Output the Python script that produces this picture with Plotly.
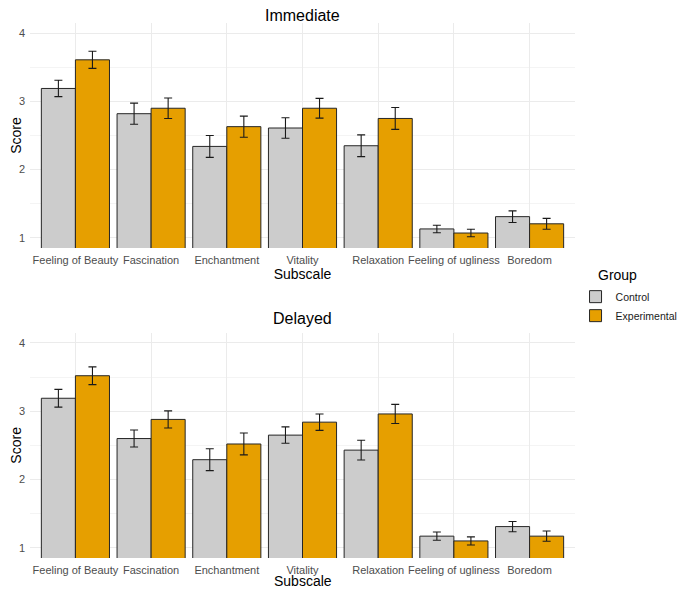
import plotly.graph_objects as go

subscales = ["Feeling of Beauty", "Fascination", "Enchantment", "Vitality",
             "Relaxation", "Feeling of ugliness", "Boredom"]
groups = ["Control", "Experimental"]
colors = {"Control": "#CCCCCC", "Experimental": "#E69F00"}

# Immediate
imm_control = [3.19, 2.82, 2.34, 2.61, 2.35, 1.13, 1.31]
imm_control_se = [0.12, 0.155, 0.16, 0.15, 0.16, 0.055, 0.085]
imm_exp = [3.61, 2.90, 2.63, 2.90, 2.75, 1.07, 1.205]
imm_exp_se = [0.125, 0.15, 0.155, 0.145, 0.16, 0.055, 0.08]

# Delayed
del_control = [3.19, 2.60, 2.29, 2.65, 2.43, 1.17, 1.31]
del_control_se = [0.13, 0.125, 0.16, 0.12, 0.145, 0.06, 0.075]
del_exp = [3.52, 2.88, 2.52, 2.84, 2.96, 1.10, 1.17]
del_exp_se = [0.13, 0.125, 0.16, 0.12, 0.14, 0.06, 0.075]

panels = [
    ("Immediate", {"Control": (imm_control, imm_control_se), "Experimental": (imm_exp, imm_exp_se)}),
    ("Delayed", {"Control": (del_control, del_control_se), "Experimental": (del_exp, del_exp_se)}),
]

FONT = "Liberation Sans, Arial, sans-serif"
fig = go.Figure()

for i, (title, data) in enumerate(panels):
    xa = "x" if i == 0 else "x2"
    ya = "y" if i == 0 else "y2"
    for g in groups:
        vals, se = data[g]
        fig.add_trace(go.Bar(
            x=subscales, y=vals, name=g, legendgroup=g, showlegend=(i == 0),
            marker=dict(color=colors[g], line=dict(color="#262626", width=1)),
            error_y=dict(type="data", array=se, visible=True, color="#1a1a1a",
                         thickness=1.1, width=4),
            xaxis=xa, yaxis=ya, offsetgroup=g,
        ))

domains = [[0.5794, 1.0], [0.0, 0.4211]]
axis_common = dict(
    showline=False, zeroline=False, ticks="", automargin=False,
    tickfont=dict(family=FONT, size=11, color="#4d4d4d"),
)
for i in range(2):
    sx = "" if i == 0 else "2"
    xtitle = dict(text="Subscale", font=dict(family=FONT, size=14, color="black"), standoff=0) if i == 0 else None
    fig.layout["xaxis" + sx] = dict(
        axis_common, domain=[0, 1], anchor="y" + sx, type="category",
        categoryorder="array", categoryarray=subscales, tickangle=0,
        range=[-0.6, 6.6], showgrid=True, gridcolor="#ebebeb", gridwidth=1,
        ticklabelstandoff=4,
    )
    if xtitle:
        fig.layout["xaxis" + sx].title = xtitle
    fig.layout["yaxis" + sx] = dict(
        axis_common, domain=domains[i], anchor="x" + sx,
        range=[0.85, 4.15], tickvals=[1, 2, 3, 4], showgrid=True,
        gridcolor="#ebebeb", gridwidth=1, ticklabelstandoff=4,
        minor=dict(tickvals=[1.5, 2.5, 3.5], showgrid=True, gridcolor="#f4f4f4", gridwidth=0.6),
        title=dict(text="Score", font=dict(family=FONT, size=14, color="black"), standoff=0),
    )

annotations = [
    dict(text="Immediate", x=0.5, y=1.0 + 15 / 534.7, xref="paper", yref="paper",
         xanchor="center", yanchor="top", yshift=3, showarrow=False,
         font=dict(family=FONT, size=16, color="black")),
    dict(text="Delayed", x=0.5, y=domains[1][1], xref="paper", yref="paper",
         xanchor="center", yanchor="bottom", yshift=4, showarrow=False,
         font=dict(family=FONT, size=16, color="black")),
    dict(text="Subscale", x=0.5, y=0, xref="paper", yref="paper",
         xanchor="center", yanchor="top", yshift=-13, showarrow=False,
         font=dict(family=FONT, size=14, color="black")),
    dict(text="Group", x=(588 - 22) / 545, y=(549.7 - 267) / 534.7, xref="paper", yref="paper",
         xanchor="left", yanchor="middle", showarrow=False,
         font=dict(family=FONT, size=14, color="black")),
]

fig.update_layout(
    width=685, height=589,
    margin=dict(l=22, r=118, t=15, b=39, autoexpand=False),
    barmode="group", bargap=0.1, bargroupgap=0,
    plot_bgcolor="white", paper_bgcolor="white",
    annotations=annotations,
    legend=dict(
        font=dict(family=FONT, size=10.5, color="#1a1a1a"),
        x=1.001, xanchor="left", y=0.5156, yanchor="top",
        tracegroupgap=0, itemwidth=30, bgcolor="rgba(0,0,0,0)",
    ),
    font=dict(family=FONT),
)

fig.write_html("out.html")
